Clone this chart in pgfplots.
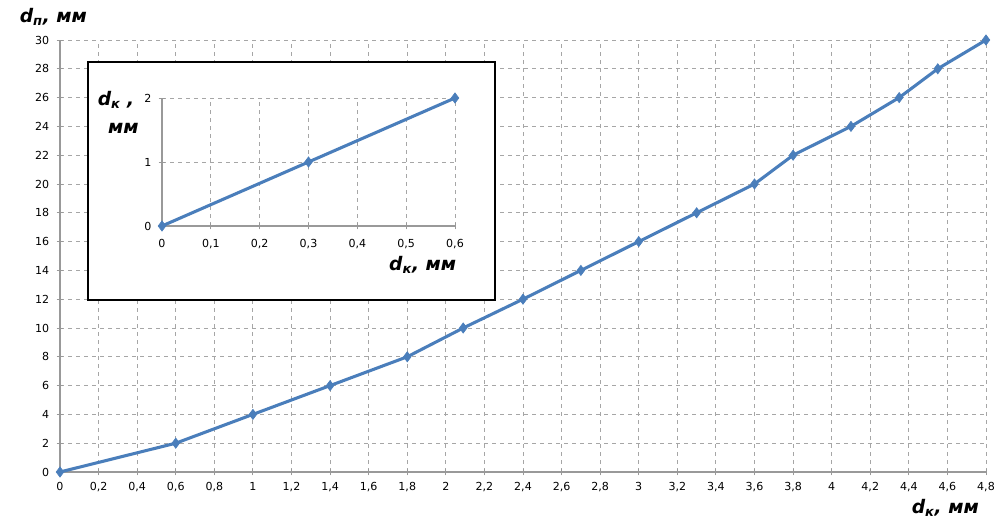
\documentclass[border=0pt]{standalone}
\usepackage{fontspec}
\setmainfont{DejaVu Sans}
\usepackage{pgfplots}
\pgfplotsset{compat=1.18}
\definecolor{lineblue}{HTML}{4A7EBB}
\begin{document}
\begin{tikzpicture}
\path[use as bounding box] (0,0) rectangle (751.5pt,390pt);
\begin{axis}[
 at={(45pt,36pt)}, anchor=south west, scale only axis,
 width=694.5pt, height=324pt,
 xmin=0, xmax=4.8, ymin=0, ymax=30,
 xtick={0,0.2,0.4,0.6,0.8,1,1.2,1.4,1.6,1.8,2,2.2,2.4,2.6,2.8,3,3.2,3.4,3.6,3.8,4,4.2,4.4,4.6,4.8},
 ytick={0,2,4,6,8,10,12,14,16,18,20,22,24,26,28,30},
 axis lines=left, axis line style={-, gray!80, line width=0.8pt},
 grid=major, grid style={dashed, gray!70, line width=0.7pt},
 tick align=center, major tick length=5pt, tick style={gray!80, line width=0.7pt},
 ticklabel style={font=\fontsize{8.3}{9}\selectfont},
 xticklabel style={yshift=-2pt},
 yticklabel style={xshift=-2pt},
 /pgf/number format/use comma, /pgf/number format/assume math mode=true,
 enlargelimits=false, clip=false,
]
\addplot[color=lineblue, line width=2.3pt, mark=diamond*, mark size=3.8pt, mark options={fill=lineblue, line width=0.5pt}]
 coordinates {(0,0) (0.6,2) (1,4) (1.4,6) (1.8,8) (2.09,10) (2.4,12) (2.7,14) (3,16) (3.3,18) (3.6,20) (3.8,22) (4.1,24) (4.35,26) (4.55,28) (4.8,30)};
\end{axis}
\draw[black, line width=2.2pt, fill=white] (66pt,165pt) rectangle (371.25pt,343.5pt);
\begin{axis}[
 at={(121.5pt,220.5pt)}, anchor=south west, scale only axis,
 width=219.75pt, height=96pt,
 xmin=0, xmax=0.6, ymin=0, ymax=2,
 xtick={0,0.1,0.2,0.3,0.4,0.5,0.6}, ytick={0,1,2},
 axis lines=left, axis line style={-, gray!80, line width=0.8pt},
 grid=major, grid style={dashed, gray!70, line width=0.7pt},
 tick align=center, major tick length=5pt, tick style={gray!80, line width=0.7pt},
 ticklabel style={font=\fontsize{8.3}{9}\selectfont},
 xticklabel style={yshift=-4pt},
 yticklabel style={xshift=-2pt},
 /pgf/number format/use comma, /pgf/number format/assume math mode=true,
 enlargelimits=false, clip=false,
]
\addplot[color=lineblue, line width=2.3pt, mark=diamond*, mark size=3.8pt, mark options={fill=lineblue, line width=0.5pt}]
 coordinates {(0,0) (0.3,1) (0.6,2)};
\end{axis}
\tikzset{lab/.style={font=\fontsize{14}{16}\selectfont\bfseries\itshape, inner sep=1pt}}
\node[lab] at (40pt,377pt) {d\textsubscript{п}, мм};
\node[lab] at (709pt,9pt) {d\textsubscript{к}, мм};
\node[lab] at (317pt,191pt) {d\textsubscript{к}, мм};
\node[lab] at (87pt,315pt) {d\textsubscript{к} ,};
\node[lab] at (92.5pt,294pt) {мм};
\end{tikzpicture}
\end{document}
